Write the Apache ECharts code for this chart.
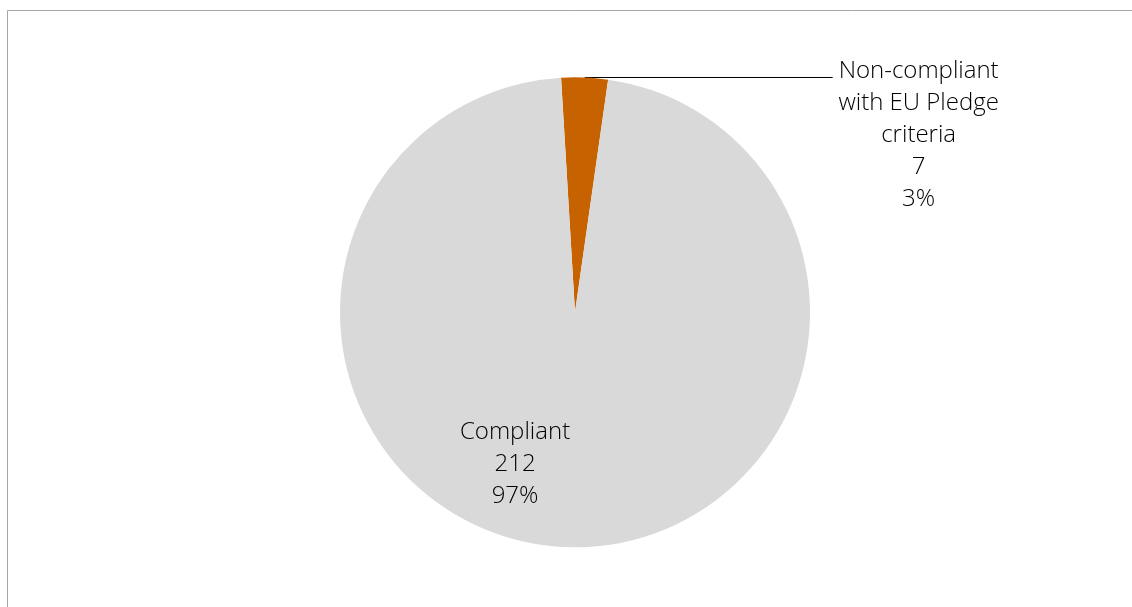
<!DOCTYPE html>
<html>
<head>
<meta charset="utf-8">
<style>
  html, body { margin: 0; padding: 0; background: #ffffff; }
  #chart { width: 1132px; height: 607px; }
</style>
<script src="https://cdn.jsdelivr.net/npm/echarts@6/dist/echarts.min.js"></script>
</head>
<body>
<div id="chart"></div>
<script>
// Pledge compliance of the reviewed items
const categories = ['Non-compliant\nwith EU Pledge\ncriteria', 'Compliant'];
const counts = [7, 212];
const colors = ['#c66300', '#d9d9d9'];

const total = counts.reduce((a, b) => a + b, 0);
const pct = v => Math.round(v / total * 100) + '%';

const chart = echarts.init(document.getElementById('chart'), null, { renderer: 'canvas' });

const textBase = {
  fontFamily: '"Open Sans", "Segoe UI", sans-serif',
  fontWeight: 300,
  fontSize: 24,
  lineHeight: 32,
  color: '#000000'
};

const pieData = categories.map((name, i) => {
  const item = { name: name, value: counts[i], itemStyle: { color: colors[i] } };
  if (i === 0) {
    item.label = {
      show: true,
      position: 'outside',
      formatter: p => p.name.split('\n').concat([String(p.value), pct(p.value)])
        .map(s => '{c|' + s + '}').join('\n'),
      rich: { c: Object.assign({}, textBase, { width: 162, align: 'center' }) },
      padding: [115, 0, 0, 0]
    };
    item.labelLine = { show: true, length: 0, length2: 248, lineStyle: { color: '#000000', width: 1 } };
  } else {
    item.label = {
      show: true,
      position: 'inside',
      formatter: p => p.name + '\n' + p.value + '\n' + pct(p.value),
      align: 'center',
      ...textBase
    };
    item.labelLine = { show: false };
  }
  return item;
});

chart.setOption({
  animation: false,
  backgroundColor: '#ffffff',
  graphic: [{
    type: 'rect',
    silent: true,
    shape: { x: 7.5, y: 10.5, width: 1300, height: 800 },
    style: { fill: 'none', stroke: '#a6a6a6', lineWidth: 1 },
    z: -1
  }],
  series: [{
    type: 'pie',
    center: [575, 312.3],
    radius: 235,
    startAngle: 93.4,
    clockwise: true,
    avoidLabelOverlap: false,
    itemStyle: { borderWidth: 0 },
    emphasis: { disabled: true },
    labelLayout: function (params) {
      if (params.dataIndex === 1) {
        return { dx: -55, dy: 31 };
      }
      return {};
    },
    data: pieData
  }]
});
</script>
</body>
</html>
